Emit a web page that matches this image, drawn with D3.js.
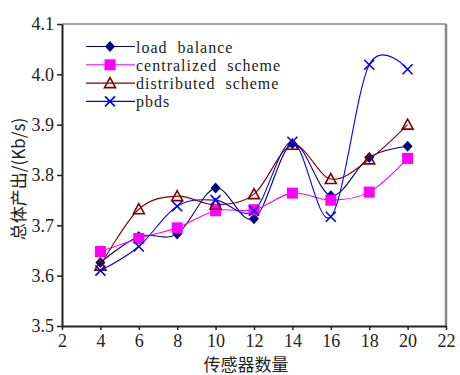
<!DOCTYPE html>
<html>
<head>
<meta charset="utf-8">
<script src="https://cdn.jsdelivr.net/npm/d3@7/dist/d3.min.js"></script>
<style>
  body { margin: 0; background: #fff; }
  svg { display: block; }
</style>
</head>
<body>
<div id="chart"></div>
<script>
// sensor counts on the x axis
var sensors = [4, 6, 8, 10, 12, 14, 16, 18, 20];

// throughput per scheme (Kb/s)
var loadBalance  = [3.626, 3.678, 3.683, 3.774, 3.713, 3.862, 3.759, 3.835, 3.857];
var centralized  = [3.648, 3.674, 3.695, 3.729, 3.731, 3.764, 3.750, 3.766, 3.833];
var distributed  = [3.620, 3.732, 3.758, 3.741, 3.762, 3.860, 3.792, 3.831, 3.900];
var pbds         = [3.610, 3.658, 3.738, 3.750, 3.729, 3.866, 3.717, 4.019, 4.010];

var seriesNames = ['load  balance', 'centralized  scheme', 'distributed  scheme', 'pbds'];
var xTicks = [2, 4, 6, 8, 10, 12, 14, 16, 18, 20, 22];
var yTicks = [3.5, 3.6, 3.7, 3.8, 3.9, 4.0, 4.1];

var serifFont = '"Liberation Serif", "Times New Roman", Times, serif';
var cjkFont = '"Noto Sans CJK SC", sans-serif';

var series = [
    {name: seriesNames[0], values: loadBalance, color: '#000080', marker: 'diamond'},
    {name: seriesNames[1], values: centralized, color: '#ff00ff', marker: 'square'},
    {name: seriesNames[2], values: distributed, color: '#800000', marker: 'triangle'},
    {name: seriesNames[3], values: pbds, color: '#0000ff', marker: 'cross'}
];

var width = 460, height = 375;
var margin = {top: 24, right: 14, bottom: 49, left: 62};

var svg = d3.select('#chart').append('svg')
    .attr('width', width)
    .attr('height', height);

var x = d3.scaleLinear().domain([2, 22]).range([margin.left, width - margin.right]);
var y = d3.scaleLinear().domain([3.5, 4.1]).range([height - margin.bottom, margin.top]);

// grey frame on top and right
svg.append('line')
    .attr('x1', x(2)).attr('x2', x(22))
    .attr('y1', y(4.1)).attr('y2', y(4.1))
    .attr('stroke', '#888').attr('stroke-width', 1.5);
svg.append('line')
    .attr('x1', x(22)).attr('x2', x(22))
    .attr('y1', y(4.1)).attr('y2', y(3.5))
    .attr('stroke', '#888').attr('stroke-width', 2.5);

var xAxis = svg.append('g')
    .attr('transform', 'translate(0,' + y(3.5) + ')')
    .call(d3.axisBottom(x).tickValues(xTicks).tickFormat(d3.format('d')).tickSizeInner(4).tickSizeOuter(0).tickPadding(4));
xAxis.select('.domain').attr('stroke', '#222').attr('stroke-width', 2);
xAxis.selectAll('.tick line').attr('stroke', '#222').attr('stroke-width', 1.5);
xAxis.selectAll('.tick text')
    .attr('font-family', serifFont).attr('font-size', 18).attr('fill', '#222');

var yAxis = svg.append('g')
    .attr('transform', 'translate(' + x(2) + ',0)')
    .call(d3.axisLeft(y).tickValues(yTicks).tickFormat(d3.format('.1f')).tickSizeInner(5).tickSizeOuter(0).tickPadding(3));
yAxis.select('.domain').attr('stroke', '#222').attr('stroke-width', 2);
yAxis.selectAll('.tick line').attr('stroke', '#222').attr('stroke-width', 1.5);
yAxis.selectAll('.tick text')
    .attr('font-family', serifFont).attr('font-size', 18).attr('fill', '#222');

// axis titles
svg.append('text')
    .attr('x', 246)
    .attr('y', 371)
    .attr('text-anchor', 'middle')
    .attr('font-family', cjkFont)
    .attr('font-size', 17)
    .attr('fill', '#222')
    .text('传感器数量');

svg.append('text')
    .attr('transform', 'translate(25,179) rotate(-90)')
    .attr('text-anchor', 'middle')
    .attr('font-family', cjkFont)
    .attr('font-size', 17)
    .attr('fill', '#222')
    .text('总体产出/(Kb/s)');

function drawMarker(g, type, color) {
    if (type === 'diamond') {
        g.append('path').attr('d', 'M0,-5.5L5,0L0,5.5L-5,0Z').attr('fill', color);
    } else if (type === 'square') {
        g.append('rect').attr('x', -5.5).attr('y', -5.5).attr('width', 11).attr('height', 11).attr('fill', color);
    } else if (type === 'triangle') {
        g.append('path').attr('d', 'M0,-5.5L5.5,4.5L-5.5,4.5Z')
            .attr('fill', 'none').attr('stroke', color).attr('stroke-width', 1.6);
    } else {
        g.append('path').attr('d', 'M-5,-5L5,5M-5,5L5,-5')
            .attr('fill', 'none').attr('stroke', color).attr('stroke-width', 1.6);
    }
}

var line = d3.line()
    .x(function(d){ return x(d[0]); })
    .y(function(d){ return y(d[1]); })
    .curve(d3.curveCardinal.tension(0));

series.forEach(function(s){
    var pts = sensors.map(function(v, i){ return [v, s.values[i]]; });
    svg.append('path')
        .datum(pts)
        .attr('d', line)
        .attr('fill', 'none')
        .attr('stroke', s.color)
        .attr('stroke-width', 1.1);
});

series.forEach(function(s){
    svg.selectAll(null)
        .data(sensors.map(function(v, i){ return [v, s.values[i]]; }))
        .enter().append('g')
        .attr('transform', function(d){ return 'translate(' + x(d[0]) + ',' + y(d[1]) + ')'; })
        .each(function(){ drawMarker(d3.select(this), s.marker, s.color); });
});

// legend
var legend = svg.append('g');
series.forEach(function(s, i){
    var ly = 46.5 + i * 18.3;
    legend.append('line')
        .attr('x1', 86).attr('x2', 135)
        .attr('y1', ly).attr('y2', ly)
        .attr('stroke', s.color).attr('stroke-width', 1.1);
    var m = legend.append('g').attr('transform', 'translate(110,' + ly + ')');
    drawMarker(m, s.marker, s.color);
    legend.append('text')
        .attr('x', 136).attr('y', ly + 6)
        .attr('font-family', serifFont)
        .attr('font-size', 16)
        .attr('letter-spacing', 1)
        .attr('fill', '#222')
        .attr('xml:space', 'preserve')
        .style('white-space', 'pre')
        .text(s.name);
});
</script>
</body>
</html>
